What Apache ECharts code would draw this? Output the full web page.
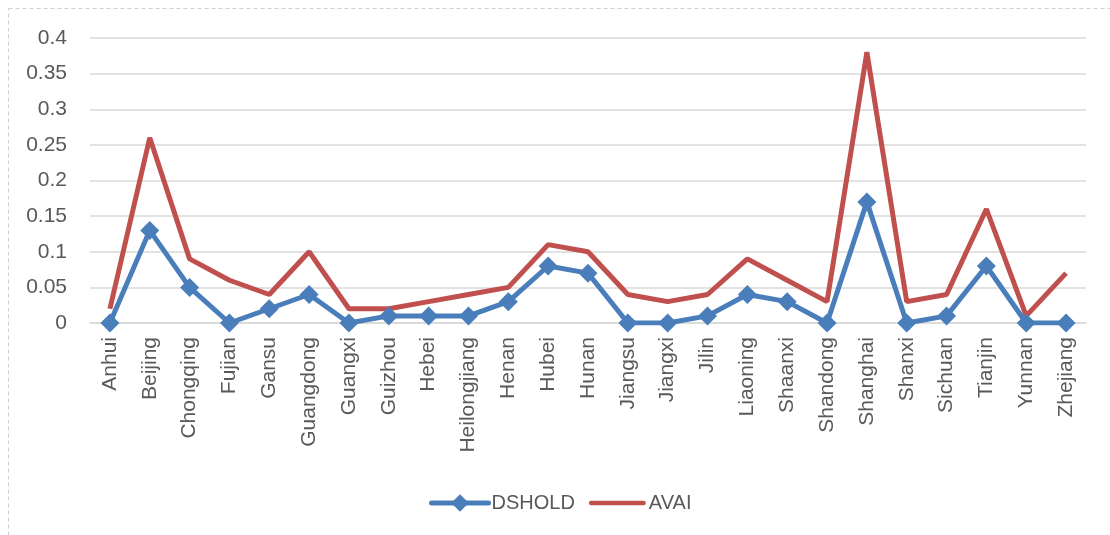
<!DOCTYPE html>
<html>
<head>
<meta charset="utf-8">
<script src="https://cdn.jsdelivr.net/npm/echarts@6/dist/echarts.min.js"></script>
<style>
html,body{margin:0;padding:0;background:#fff;}
#chart{width:1110px;height:535px;}
</style>
</head>
<body>
<div id="chart"></div>
<script>
// Provinces along the horizontal axis
const provinces = ['Anhui','Beijing','Chongqing','Fujian','Gansu','Guangdong','Guangxi','Guizhou','Hebei','Heilongjiang','Henan','Hubei','Hunan','Jiangsu','Jiangxi','Jilin','Liaoning','Shaanxi','Shandong','Shanghai','Shanxi','Sichuan','Tianjin','Yunnan','Zhejiang'];

// Series values per province
const dshold = [0,0.13,0.05,0,0.02,0.04,0,0.01,0.01,0.01,0.03,0.08,0.07,0,0,0.01,0.04,0.03,0,0.17,0,0.01,0.08,0,0];
const avai   = [0.02,0.26,0.09,0.06,0.04,0.10,0.02,0.02,0.03,0.04,0.05,0.11,0.10,0.04,0.03,0.04,0.09,0.06,0.03,0.38,0.03,0.04,0.16,0.01,0.07];

const FONT = 'Liberation Sans';
const TEXT = '#595959';
const BLUE = '#4a7ebb';
const RED = '#c0504d';

// plain rounded bar used as the AVAI legend key (line without a marker)
const LINE_ICON = 'path://M4,0 L96,0 A4,4 0 0 1 96,8 L4,8 A4,4 0 0 1 4,0 Z';

const chart = echarts.init(document.getElementById('chart'), null, {renderer: 'canvas'});
chart.setOption({
  animation: false,
  backgroundColor: '#ffffff',
  graphic: [{
    type: 'rect',
    shape: {x: 8.5, y: 8.5, width: 1200, height: 600},
    style: {fill: 'none', stroke: '#d0d0d0', lineWidth: 1, lineDash: [4, 3]},
    silent: true
  }],
  grid: {left: 90, right: 24, top: 38, bottom: 212},
  legend: {
    top: 488,
    left: 424,
    itemWidth: 57,
    itemHeight: 22,
    itemGap: 14,
    lineStyle: {width: 5, cap: 'round'},
    textStyle: {fontFamily: FONT, fontSize: 20, color: TEXT, padding: [0, 0, 0, -2]},
    data: [
      {name: 'DSHOLD'},
      {name: 'AVAI', icon: LINE_ICON}
    ]
  },
  xAxis: {
    type: 'category',
    data: provinces,
    boundaryGap: true,
    axisLine: {show: true, lineStyle: {color: '#d9d9d9', width: 1.5}},
    axisTick: {show: false},
    axisLabel: {rotate: 90, margin: 14, interval: 0, fontFamily: FONT, fontSize: 21, color: TEXT}
  },
  yAxis: {
    type: 'value',
    min: 0,
    max: 0.4,
    interval: 0.05,
    axisLine: {show: false},
    axisTick: {show: false},
    splitLine: {lineStyle: {color: '#d9d9d9', width: 1.5}},
    axisLabel: {margin: 23, fontFamily: FONT, fontSize: 21, color: TEXT,
      formatter: v => String(+v.toFixed(2))}
  },
  series: [{
    name: 'DSHOLD',
    type: 'line',
    data: dshold,
    symbol: 'diamond',
    symbolSize: 19,
    lineStyle: {color: BLUE, width: 5},
    itemStyle: {color: BLUE},
    z: 3
  }, {
    name: 'AVAI',
    type: 'line',
    data: avai,
    symbol: 'none',
    lineStyle: {color: RED, width: 5},
    itemStyle: {color: RED},
    z: 2
  }]
});
</script>
</body>
</html>
